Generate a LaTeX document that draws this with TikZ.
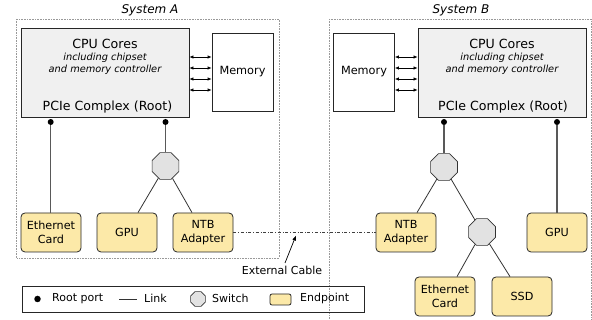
\documentclass[tikz,border=0pt]{standalone}
\usepackage{fontspec}
\setmainfont{DejaVu Sans}
\usetikzlibrary{shapes.geometric,arrows.meta,calc}
\definecolor{epfill}{HTML}{FCE9A8}
\definecolor{cpufill}{HTML}{F0F0F0}
\definecolor{swfill}{HTML}{E2E2E2}
\definecolor{linkcol}{HTML}{333333}
\tikzset{
  sysbox/.style={draw=gray!80, densely dotted, line width=0.6pt},
  cpubox/.style={draw=black!85, fill=cpufill, line width=0.8pt, minimum width=168pt, minimum height=89pt, inner sep=0pt},
  membox/.style={draw=black!85, fill=white, line width=0.7pt, minimum width=61pt, minimum height=78pt, inner sep=0pt, font=\fontsize{11.3}{13}\selectfont},
  endpoint/.style={draw=black!85, fill=epfill, rounded corners=4pt, line width=0.8pt, minimum width=60pt, minimum height=39pt, inner sep=0pt, align=center, font=\fontsize{11.2}{13.5}\selectfont},
  switch/.style={regular polygon, regular polygon sides=8, draw=black!80, fill=swfill, line width=0.7pt, minimum size=29pt, inner sep=0pt},
  rootport/.style={circle, fill=black, inner sep=0pt, minimum size=6pt},
  rootlink/.style={draw=black!65, line width=1.3pt},
  link/.style={draw=linkcol, line width=0.8pt},
  memarrow/.style={{Latex[length=4pt,width=3.5pt]}-{Latex[length=4pt,width=3.5pt]}, line width=0.7pt},
  systitle/.style={font=\fontsize{12}{14}\selectfont\itshape},
  cputext/.style={font=\fontsize{12.6}{14}\selectfont},
  cpusub/.style={align=center, font=\fontsize{9.8}{12}\selectfont\itshape},
  legtext/.style={font=\fontsize{11}{13}\selectfont, anchor=west, inner sep=0pt}
}
\begin{document}
\begin{tikzpicture}[x=1pt,y=-1pt]
\useasboundingbox (0,0) rectangle (592,320);
% system boxes
\draw[sysbox] (16.5,19) rectangle (279,258);
\draw[sysbox] (329,19) -- (591,19) -- (591,321);
\draw[sysbox] (329,19) -- (329,321);
\node[systitle] (tA) at (150,10) {System A};
\node[systitle] (tB) at (461,10) {System B};
% System A
\node[cpubox] (cpuA) at (105,72.5) {};
\node[cputext] (cpuAt) at (105,44) {CPU Cores};
\node[cpusub] (cpuAs) at (105,63.5) {including chipset\\and memory controller};
\node[cputext] (cpuAp) at (107.5,107) {PCIe Complex (Root)};
\node[membox] (memA) at (242.5,72) {Memory};
\foreach \y in {57,68,79,90} \draw[memarrow] (cpuA.east |- 0,\y) -- (memA.west |- 0,\y);
\node[rootport] (rpA1) at (50.7,122) {};
\node[rootport] (rpA2) at (165.5,122) {};
\node[switch] (swA) at (165.5,166) {};
\node[endpoint] (ethA) at (51,232.5) {Ethernet\\Card};
\node[endpoint] (gpuA) at (127,232.5) {GPU};
\node[endpoint] (ntbA) at (203,232.5) {NTB\\Adapter};
\draw[rootlink] (rpA1) -- (ethA.north -| rpA1);
\draw[rootlink] (rpA2) -- (swA.north);
\draw[link] (swA) -- ($(gpuA.north)+(11,0)$);
\draw[link] (swA) -- ($(ntbA.north)+(-11,0)$);
% System B
\node[cpubox] (cpuB) at (502,72.5) {};
\node[cputext] (cpuBt) at (502,44) {CPU Cores};
\node[cpusub] (cpuBs) at (502,63.5) {including chipset\\and memory controller};
\node[cputext] (cpuBp) at (503,107) {PCIe Complex (Root)};
\node[membox] (memB) at (364,72) {Memory};
\foreach \y in {57,68,79,90} \draw[memarrow] (memB.east |- 0,\y) -- (cpuB.west |- 0,\y);
\node[rootport] (rpB1) at (444,122) {};
\node[rootport] (rpB2) at (557,122) {};
\node[switch] (swB1) at (444,167) {};
\node[switch] (swB2) at (482,232) {};
\node[endpoint] (ntbB) at (406,232.5) {NTB\\Adapter};
\node[endpoint] (gpuB) at (557,232.5) {GPU};
\node[endpoint] (ethB) at (445,296.5) {Ethernet\\Card};
\node[endpoint] (ssdB) at (522,296.5) {SSD};
\draw[rootlink] (rpB1) -- (swB1.north);
\draw[rootlink] (rpB2) -- (gpuB.north);
\draw[link] (swB1) -- ($(ntbB.north)+(11,0)$);
\draw[link] (swB1) -- (swB2);
\draw[link] (swB2) -- ($(ethB.north)+(12,0)$);
\draw[link] (swB2) -- ($(ssdB.north)+(-12,0)$);
% external cable
\draw[dash dot, line width=0.7pt, draw=black!75] (ntbA.east) -- (ntbB.west);
\coordinate (cabpt) at (296,235.5);
\coordinate (cabstart) at (285,263);
\node[font=\fontsize{11}{13}\selectfont] (cab) at (282,270.5) {External Cable};
\draw[-{Latex[length=5pt,width=4pt]}, line width=0.7pt] (cabstart) -- (cabpt);
% legend
\node[draw=black!85, line width=0.8pt, minimum width=342pt, minimum height=26pt, inner sep=0pt] (leg) at (193,299) {};
\node[circle, fill=black, inner sep=0pt, minimum size=6.5pt] (lgdot) at (37.5,299) {};
\node[legtext] (lgrp) at (52,298.5) {Root port};
\coordinate (lgl1) at (119,299);
\coordinate (lgl2) at (137,299);
\draw[link] (lgl1) -- (lgl2);
\node[legtext] (lglink) at (144,298.5) {Link};
\node[switch, minimum size=16pt] (lgsw) at (198,299) {};
\node[legtext] (lgswt) at (212,298.5) {Switch};
\node[draw=black!85, fill=epfill, rounded corners=2pt, line width=0.8pt, minimum width=21pt, minimum height=11pt, inner sep=0pt] (lgep) at (280.5,299.5) {};
\node[legtext] (lgept) at (300,298.5) {Endpoint};
\end{tikzpicture}
\end{document}
